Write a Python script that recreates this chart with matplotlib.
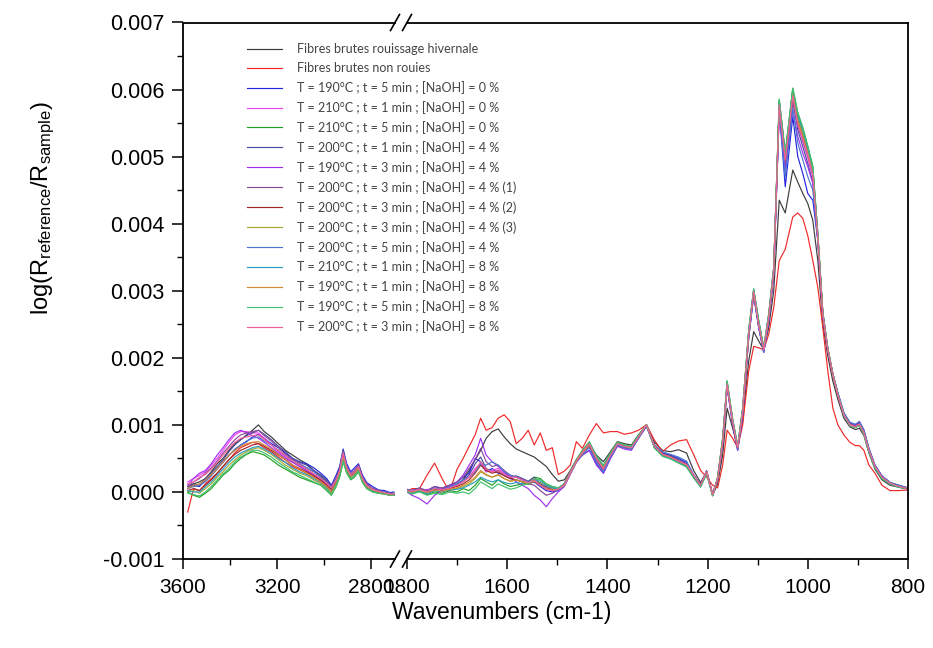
import numpy as np
import matplotlib
matplotlib.use('Agg')
import matplotlib.pyplot as plt
from matplotlib.lines import Line2D
from matplotlib.ticker import MultipleLocator, FormatStrFormatter

plt.rcParams['font.family'] = 'Liberation Sans'
plt.rcParams['axes.unicode_minus'] = False
plt.rcParams['mathtext.fontset'] = 'custom'
plt.rcParams['mathtext.rm'] = 'Liberation Sans'

#%% data (absorbance, in units of 1e-3)
wn_left = [3580, 3555, 3530, 3505, 3480, 3455, 3430, 3405, 3380, 3355,
           3330, 3305, 3280, 3255, 3225, 3195, 3165, 3135, 3105, 3075,
           3045, 3015, 2990, 2970, 2950, 2935, 2920, 2905, 2888, 2872,
           2855, 2838, 2820, 2795, 2770, 2745, 2720, 2705]

wn_right = [1800, 1790, 1775, 1760, 1745, 1730, 1715, 1700,
            1688, 1676, 1664, 1653, 1642, 1630, 1618, 1606, 1594, 1582,
            1570, 1558, 1546, 1534, 1522, 1510, 1498, 1486, 1474, 1462,
            1450, 1436, 1422, 1408, 1394, 1380, 1366, 1352, 1338, 1322,
            1306, 1290, 1274, 1258, 1242, 1228, 1214, 1202, 1190, 1180,
            1170, 1161, 1150, 1140, 1130, 1118, 1108, 1098, 1088, 1078,
            1068, 1057, 1045, 1030, 1020, 1010, 1000, 990, 980, 970,
            960, 950, 940, 928, 916, 905, 897, 888, 878, 866,
            852, 836, 818, 800]

hiver_l = [0.08, 0.12, 0.15, 0.20, 0.30, 0.42, 0.50, 0.62, 0.72, 0.78,
           0.85, 0.92, 1.00, 0.90, 0.82, 0.72, 0.62, 0.55, 0.48, 0.42,
           0.32, 0.24, 0.16, 0.05, 0.15, 0.30, 0.58, 0.35, 0.25, 0.28,
           0.38, 0.20, 0.10, 0.04, 0.02, 0.00, -0.03, -0.02]
hiver_r = [0.02, 0.00, 0.02, -0.02, 0.05, 0.03, 0.06, 0.10,
           0.18, 0.32, 0.48, 0.62, 0.80, 0.90, 0.94, 0.82, 0.72, 0.64,
           0.60, 0.56, 0.52, 0.45, 0.38, 0.26, 0.16, 0.18, 0.32, 0.48,
           0.60, 0.72, 0.55, 0.45, 0.60, 0.75, 0.72, 0.70, 0.85, 1.00,
           0.74, 0.62, 0.60, 0.63, 0.58, 0.32, 0.14, 0.30, -0.05, 0.12,
           0.55, 1.25, 0.95, 0.66, 1.05, 1.95, 2.39, 2.25, 2.12, 2.45,
           3.00, 4.35, 4.16, 4.80, 4.62, 4.45, 4.30, 4.05, 3.45, 2.50,
           2.02, 1.65, 1.38, 1.10, 0.97, 0.93, 0.95, 0.84, 0.58, 0.34,
           0.18, 0.10, 0.07, 0.04]

brut_l = [-0.30, 0.05, 0.02, 0.12, 0.20, 0.28, 0.38, 0.48, 0.58, 0.66,
          0.70, 0.74, 0.72, 0.66, 0.60, 0.52, 0.44, 0.38, 0.33, 0.28,
          0.22, 0.16, 0.10, 0.05, 0.15, 0.30, 0.52, 0.34, 0.24, 0.28,
          0.36, 0.18, 0.08, 0.02, 0.00, -0.02, -0.04, -0.05]
brut_r = [0.00, 0.05, 0.05, 0.25, 0.43, 0.20, 0.00, 0.34,
          0.50, 0.68, 0.85, 1.10, 0.92, 0.96, 1.10, 1.15, 1.05, 0.72,
          0.80, 0.92, 0.70, 0.88, 0.62, 0.66, 0.26, 0.31, 0.40, 0.75,
          0.65, 0.85, 1.02, 0.88, 0.90, 0.90, 0.86, 0.88, 0.92, 1.00,
          0.77, 0.60, 0.70, 0.76, 0.78, 0.56, 0.32, 0.22, 0.10, 0.06,
          0.40, 0.92, 0.80, 0.66, 1.00, 1.80, 2.17, 2.15, 2.12, 2.35,
          2.75, 3.45, 3.62, 4.10, 4.16, 4.08, 3.82, 3.45, 3.05, 2.45,
          1.80, 1.25, 1.00, 0.85, 0.74, 0.69, 0.69, 0.62, 0.40, 0.28,
          0.10, 0.02, 0.02, 0.03]

t190_5_0_l = [0.05, 0.10, 0.08, 0.18, 0.25, 0.35, 0.45, 0.55, 0.62, 0.70,
              0.75, 0.82, 0.86, 0.80, 0.72, 0.66, 0.58, 0.50, 0.45, 0.42,
              0.36, 0.28, 0.20, 0.10, 0.25, 0.38, 0.64, 0.42, 0.30, 0.36,
              0.42, 0.25, 0.14, 0.08, 0.03, 0.02, -0.01, 0.00]
t190_5_0_r = [0.03, 0.01, 0.05, 0.02, 0.08, 0.05, 0.10, 0.15,
              0.22, 0.28, 0.50, 0.45, 0.30, 0.35, 0.28, 0.25, 0.20, 0.18,
              0.15, 0.12, 0.15, 0.08, 0.02, 0.00, 0.02, 0.10, 0.28, 0.45,
              0.55, 0.62, 0.42, 0.28, 0.50, 0.70, 0.66, 0.64, 0.80, 0.98,
              0.68, 0.58, 0.55, 0.50, 0.44, 0.25, 0.10, 0.30, -0.03, 0.18,
              0.72, 1.58, 1.02, 0.62, 1.15, 2.30, 2.95, 2.45, 2.08, 2.55,
              3.25, 5.70, 4.55, 5.60, 5.00, 4.75, 4.45, 4.35, 3.75, 2.62,
              2.10, 1.75, 1.48, 1.18, 1.03, 1.00, 1.05, 0.92, 0.65, 0.40,
              0.24, 0.14, 0.10, 0.06]

t210_1_0_l = [0.15, 0.20, 0.25, 0.30, 0.40, 0.50, 0.62, 0.74, 0.85, 0.90,
              0.90, 0.88, 0.88, 0.80, 0.70, 0.60, 0.52, 0.45, 0.38, 0.32,
              0.26, 0.20, 0.14, 0.08, 0.18, 0.32, 0.58, 0.36, 0.26, 0.30,
              0.38, 0.20, 0.10, 0.04, 0.00, -0.02, -0.04, -0.03]
t210_1_0_r = [0.02, 0.03, 0.00, 0.04, 0.02, 0.06, 0.04, 0.10,
              0.15, 0.22, 0.35, 0.42, 0.30, 0.32, 0.35, 0.28, 0.24, 0.22,
              0.20, 0.15, 0.20, 0.12, 0.05, 0.02, 0.05, 0.12, 0.30, 0.46,
              0.60, 0.72, 0.50, 0.34, 0.55, 0.72, 0.68, 0.66, 0.82, 1.00,
              0.68, 0.56, 0.52, 0.46, 0.42, 0.26, 0.10, 0.30, -0.04, 0.20,
              0.76, 1.62, 1.06, 0.66, 1.22, 2.38, 3.00, 2.52, 2.12, 2.62,
              3.32, 5.78, 4.98, 5.92, 5.50, 5.22, 4.98, 4.70, 3.80, 2.65,
              2.12, 1.74, 1.44, 1.14, 1.00, 0.97, 1.00, 0.88, 0.62, 0.38,
              0.22, 0.13, 0.08, 0.05]

t210_5_0_l = [0.00, -0.05, -0.08, -0.02, 0.05, 0.15, 0.25, 0.32, 0.42, 0.50,
              0.56, 0.60, 0.58, 0.55, 0.48, 0.40, 0.34, 0.28, 0.22, 0.18,
              0.14, 0.10, 0.02, -0.05, 0.08, 0.22, 0.45, 0.28, 0.18, 0.22,
              0.30, 0.14, 0.05, 0.00, -0.02, -0.03, -0.05, -0.04]
t210_5_0_r = [0.00, -0.03, 0.02, -0.04, 0.00, -0.02, 0.02, 0.00,
              0.05, 0.02, 0.10, 0.20, 0.15, 0.10, 0.18, 0.12, 0.08, 0.10,
              0.12, 0.15, 0.22, 0.20, 0.12, 0.08, 0.06, 0.12, 0.30, 0.48,
              0.62, 0.74, 0.52, 0.38, 0.58, 0.74, 0.70, 0.68, 0.84, 1.00,
              0.66, 0.54, 0.50, 0.44, 0.38, 0.22, 0.08, 0.28, -0.05, 0.22,
              0.80, 1.65, 1.08, 0.68, 1.25, 2.40, 3.02, 2.55, 2.15, 2.65,
              3.35, 5.85, 5.05, 6.02, 5.65, 5.42, 5.15, 4.85, 3.85, 2.68,
              2.14, 1.76, 1.46, 1.15, 1.00, 0.96, 1.00, 0.87, 0.60, 0.36,
              0.20, 0.12, 0.07, 0.05]

t200_1_4_l = [0.05, 0.12, 0.10, 0.20, 0.28, 0.38, 0.48, 0.60, 0.70, 0.78,
              0.84, 0.88, 0.92, 0.86, 0.78, 0.68, 0.60, 0.50, 0.44, 0.40,
              0.32, 0.25, 0.18, 0.08, 0.20, 0.35, 0.62, 0.38, 0.27, 0.32,
              0.40, 0.22, 0.12, 0.05, 0.02, 0.00, -0.02, -0.02]
t200_1_4_r = [0.03, 0.02, 0.06, 0.00, 0.05, 0.03, 0.08, 0.12,
              0.18, 0.25, 0.42, 0.52, 0.35, 0.30, 0.32, 0.26, 0.22, 0.24,
              0.20, 0.16, 0.22, 0.12, 0.08, 0.06, 0.05, 0.12, 0.30, 0.46,
              0.58, 0.70, 0.48, 0.32, 0.52, 0.70, 0.66, 0.65, 0.82, 1.00,
              0.70, 0.58, 0.54, 0.48, 0.42, 0.24, 0.10, 0.32, -0.03, 0.20,
              0.74, 1.58, 1.04, 0.65, 1.18, 2.32, 2.96, 2.48, 2.10, 2.58,
              3.28, 5.72, 4.85, 5.88, 5.40, 5.15, 4.90, 4.62, 3.78, 2.64,
              2.12, 1.76, 1.47, 1.16, 1.02, 0.99, 1.03, 0.90, 0.63, 0.39,
              0.23, 0.14, 0.09, 0.06]

t190_3_4_l = [0.10, 0.20, 0.28, 0.32, 0.42, 0.55, 0.66, 0.78, 0.88, 0.92,
              0.88, 0.84, 0.80, 0.74, 0.66, 0.58, 0.50, 0.44, 0.38, 0.32,
              0.25, 0.18, 0.12, 0.06, 0.18, 0.32, 0.58, 0.36, 0.25, 0.30,
              0.38, 0.20, 0.10, 0.04, 0.01, -0.02, -0.03, -0.03]
t190_3_4_r = [0.00, -0.05, -0.10, -0.18, -0.05, 0.02, 0.08, 0.15,
              0.25, 0.40, 0.55, 0.80, 0.55, 0.45, 0.38, 0.30, 0.22, 0.15,
              0.10, 0.05, -0.05, -0.12, -0.22, -0.10, 0.00, 0.08, 0.26, 0.44,
              0.55, 0.62, 0.40, 0.28, 0.50, 0.68, 0.64, 0.62, 0.80, 0.98,
              0.66, 0.55, 0.50, 0.44, 0.38, 0.22, 0.08, 0.28, -0.05, 0.18,
              0.72, 1.55, 1.00, 0.62, 1.15, 2.30, 2.92, 2.45, 2.08, 2.55,
              3.25, 5.65, 4.80, 5.70, 5.30, 5.05, 4.85, 4.60, 3.75, 2.62,
              2.10, 1.74, 1.46, 1.16, 1.02, 0.99, 1.04, 0.92, 0.64, 0.40,
              0.24, 0.14, 0.09, 0.06]

t200_3_4a_l = [0.08, 0.15, 0.20, 0.28, 0.36, 0.46, 0.58, 0.68, 0.78, 0.85,
               0.88, 0.90, 0.92, 0.84, 0.76, 0.66, 0.56, 0.48, 0.42, 0.36,
               0.30, 0.22, 0.15, 0.08, 0.20, 0.34, 0.60, 0.38, 0.27, 0.32,
               0.40, 0.22, 0.12, 0.05, 0.02, 0.00, -0.02, -0.03]
t200_3_4a_r = [0.04, 0.02, 0.06, 0.02, 0.08, 0.06, 0.10, 0.15,
               0.22, 0.35, 0.48, 0.65, 0.45, 0.38, 0.40, 0.32, 0.25, 0.22,
               0.18, 0.12, 0.10, 0.02, -0.05, -0.02, 0.04, 0.12, 0.30, 0.46,
               0.58, 0.68, 0.46, 0.32, 0.52, 0.70, 0.66, 0.64, 0.82, 1.00,
               0.68, 0.56, 0.52, 0.46, 0.40, 0.24, 0.10, 0.30, -0.04, 0.20,
               0.74, 1.60, 1.04, 0.64, 1.18, 2.34, 2.97, 2.50, 2.12, 2.60,
               3.30, 5.74, 4.90, 5.80, 5.45, 5.25, 5.02, 4.75, 3.82, 2.66,
               2.14, 1.76, 1.46, 1.16, 1.01, 0.98, 1.02, 0.89, 0.62, 0.38,
               0.22, 0.13, 0.08, 0.05]

t200_3_4b_l = [0.02, 0.05, 0.02, 0.10, 0.18, 0.28, 0.38, 0.48, 0.56, 0.62,
               0.66, 0.70, 0.72, 0.68, 0.62, 0.55, 0.48, 0.40, 0.35, 0.30,
               0.24, 0.18, 0.10, 0.03, 0.15, 0.30, 0.55, 0.34, 0.24, 0.28,
               0.36, 0.18, 0.08, 0.02, -0.01, -0.03, -0.05, -0.04]
t200_3_4b_r = [0.02, 0.00, 0.03, 0.00, 0.04, 0.02, 0.06, 0.08,
               0.12, 0.18, 0.28, 0.40, 0.32, 0.28, 0.30, 0.24, 0.20, 0.18,
               0.15, 0.12, 0.16, 0.10, 0.06, 0.04, 0.05, 0.12, 0.30, 0.46,
               0.60, 0.70, 0.50, 0.36, 0.56, 0.72, 0.68, 0.66, 0.82, 1.00,
               0.68, 0.56, 0.52, 0.46, 0.40, 0.24, 0.10, 0.30, -0.05, 0.20,
               0.76, 1.62, 1.06, 0.66, 1.20, 2.36, 2.99, 2.52, 2.13, 2.62,
               3.32, 5.80, 5.00, 5.98, 5.55, 5.32, 5.08, 4.78, 3.82, 2.66,
               2.12, 1.75, 1.45, 1.15, 1.00, 0.97, 1.01, 0.88, 0.62, 0.38,
               0.22, 0.13, 0.08, 0.05]

t200_3_4c_l = [0.00, 0.02, -0.02, 0.05, 0.12, 0.22, 0.30, 0.40, 0.48, 0.55,
               0.60, 0.64, 0.66, 0.62, 0.56, 0.48, 0.40, 0.34, 0.28, 0.24,
               0.18, 0.12, 0.05, -0.02, 0.10, 0.25, 0.48, 0.30, 0.20, 0.25,
               0.32, 0.15, 0.06, 0.01, -0.02, -0.03, -0.04, -0.05]
t200_3_4c_r = [0.01, -0.01, 0.02, -0.02, 0.02, 0.00, 0.03, 0.05,
               0.08, 0.12, 0.20, 0.30, 0.25, 0.22, 0.25, 0.20, 0.16, 0.18,
               0.15, 0.14, 0.20, 0.14, 0.10, 0.06, 0.05, 0.12, 0.30, 0.46,
               0.60, 0.72, 0.52, 0.38, 0.56, 0.72, 0.68, 0.66, 0.82, 1.00,
               0.67, 0.55, 0.51, 0.45, 0.39, 0.24, 0.09, 0.29, -0.06, 0.20,
               0.76, 1.63, 1.07, 0.67, 1.22, 2.37, 3.00, 2.53, 2.14, 2.63,
               3.33, 5.82, 5.02, 6.00, 5.58, 5.35, 5.10, 4.80, 3.83, 2.66,
               2.12, 1.75, 1.45, 1.15, 1.00, 0.97, 1.00, 0.87, 0.61, 0.37,
               0.21, 0.12, 0.08, 0.05]

t200_5_4_l = [0.05, 0.08, 0.10, 0.15, 0.24, 0.34, 0.44, 0.54, 0.64, 0.70,
              0.76, 0.80, 0.82, 0.76, 0.70, 0.62, 0.54, 0.46, 0.40, 0.36,
              0.30, 0.22, 0.14, 0.06, 0.18, 0.32, 0.58, 0.36, 0.26, 0.30,
              0.38, 0.20, 0.10, 0.04, 0.01, 0.00, -0.03, -0.02]
t200_5_4_r = [0.03, 0.01, 0.04, 0.00, 0.06, 0.03, 0.07, 0.12,
              0.18, 0.22, 0.30, 0.42, 0.40, 0.45, 0.40, 0.30, 0.25, 0.22,
              0.18, 0.15, 0.18, 0.10, 0.05, 0.02, 0.03, 0.10, 0.28, 0.45,
              0.56, 0.66, 0.44, 0.30, 0.52, 0.70, 0.66, 0.64, 0.80, 0.98,
              0.70, 0.60, 0.56, 0.52, 0.46, 0.26, 0.11, 0.30, -0.03, 0.18,
              0.72, 1.56, 1.02, 0.63, 1.16, 2.30, 2.94, 2.47, 2.09, 2.56,
              3.26, 5.68, 4.70, 5.72, 5.20, 4.95, 4.70, 4.50, 3.76, 2.63,
              2.11, 1.76, 1.48, 1.18, 1.04, 1.01, 1.05, 0.92, 0.65, 0.40,
              0.24, 0.14, 0.10, 0.06]

t210_1_8_l = [0.02, 0.00, 0.00, 0.08, 0.15, 0.25, 0.34, 0.44, 0.52, 0.58,
              0.62, 0.66, 0.68, 0.64, 0.58, 0.50, 0.44, 0.36, 0.30, 0.26,
              0.20, 0.14, 0.06, 0.00, 0.12, 0.26, 0.50, 0.32, 0.22, 0.26,
              0.34, 0.16, 0.07, 0.02, -0.01, -0.02, -0.04, -0.04]
t210_1_8_r = [0.00, -0.02, 0.02, -0.03, 0.02, 0.00, 0.03, 0.04,
              0.06, 0.10, 0.15, 0.22, 0.18, 0.15, 0.18, 0.14, 0.12, 0.14,
              0.12, 0.12, 0.18, 0.16, 0.10, 0.06, 0.05, 0.12, 0.30, 0.46,
              0.60, 0.72, 0.52, 0.38, 0.57, 0.73, 0.69, 0.67, 0.83, 1.00,
              0.66, 0.54, 0.50, 0.44, 0.38, 0.22, 0.08, 0.28, -0.05, 0.21,
              0.78, 1.64, 1.08, 0.68, 1.24, 2.40, 3.02, 2.55, 2.15, 2.64,
              3.34, 5.84, 5.04, 6.00, 5.60, 5.40, 5.12, 4.82, 3.84, 2.67,
              2.13, 1.75, 1.45, 1.14, 0.99, 0.96, 1.00, 0.87, 0.60, 0.36,
              0.20, 0.12, 0.07, 0.05]

t190_1_8_l = [0.05, 0.10, 0.12, 0.18, 0.26, 0.35, 0.45, 0.55, 0.62, 0.68,
              0.72, 0.74, 0.75, 0.70, 0.64, 0.56, 0.48, 0.40, 0.34, 0.28,
              0.22, 0.15, 0.08, 0.00, 0.14, 0.28, 0.52, 0.33, 0.23, 0.27,
              0.35, 0.17, 0.08, 0.03, 0.00, -0.02, -0.04, -0.03]
t190_1_8_r = [0.02, 0.00, 0.03, -0.01, 0.03, 0.01, 0.04, 0.06,
              0.10, 0.15, 0.22, 0.32, 0.26, 0.22, 0.26, 0.20, 0.16, 0.18,
              0.15, 0.12, 0.16, 0.10, 0.05, 0.03, 0.04, 0.10, 0.28, 0.45,
              0.58, 0.70, 0.50, 0.36, 0.55, 0.72, 0.68, 0.66, 0.82, 1.00,
              0.68, 0.56, 0.52, 0.46, 0.40, 0.24, 0.10, 0.30, -0.04, 0.20,
              0.75, 1.60, 1.05, 0.66, 1.20, 2.35, 2.98, 2.50, 2.12, 2.60,
              3.30, 5.76, 4.96, 5.94, 5.52, 5.30, 5.05, 4.75, 3.80, 2.65,
              2.12, 1.75, 1.45, 1.15, 1.00, 0.97, 1.01, 0.88, 0.62, 0.38,
              0.22, 0.13, 0.08, 0.05]

t190_5_8_l = [-0.02, -0.04, -0.06, 0.00, 0.08, 0.18, 0.27, 0.35, 0.45, 0.52,
              0.57, 0.62, 0.62, 0.58, 0.52, 0.44, 0.37, 0.30, 0.25, 0.20,
              0.15, 0.10, 0.03, -0.04, 0.09, 0.23, 0.46, 0.29, 0.19, 0.23,
              0.31, 0.15, 0.05, 0.00, -0.02, -0.03, -0.05, -0.05]
t190_5_8_r = [0.00, -0.03, 0.00, -0.05, -0.02, -0.04, 0.00, -0.02,
              0.00, -0.03, 0.05, 0.15, 0.10, 0.05, 0.12, 0.08, 0.04, 0.06,
              0.10, 0.12, 0.20, 0.18, 0.12, 0.08, 0.06, 0.12, 0.30, 0.47,
              0.62, 0.75, 0.54, 0.40, 0.58, 0.74, 0.70, 0.68, 0.84, 1.00,
              0.65, 0.53, 0.49, 0.43, 0.37, 0.21, 0.07, 0.27, -0.06, 0.22,
              0.80, 1.66, 1.09, 0.69, 1.26, 2.42, 3.03, 2.56, 2.16, 2.66,
              3.36, 5.86, 5.06, 6.02, 5.66, 5.44, 5.16, 4.86, 3.86, 2.68,
              2.14, 1.76, 1.46, 1.15, 0.99, 0.96, 0.99, 0.86, 0.60, 0.36,
              0.20, 0.12, 0.07, 0.05]

t200_3_8_l = [0.12, 0.15, 0.22, 0.26, 0.34, 0.44, 0.55, 0.65, 0.74, 0.80,
              0.82, 0.84, 0.85, 0.78, 0.70, 0.62, 0.54, 0.46, 0.40, 0.34,
              0.27, 0.20, 0.13, 0.06, 0.18, 0.32, 0.58, 0.36, 0.26, 0.30,
              0.38, 0.20, 0.10, 0.04, 0.01, -0.01, -0.03, -0.03]
t200_3_8_r = [0.02, 0.01, 0.04, 0.00, 0.05, 0.03, 0.06, 0.10,
              0.15, 0.22, 0.32, 0.45, 0.34, 0.30, 0.32, 0.26, 0.22, 0.22,
              0.18, 0.14, 0.18, 0.10, 0.04, 0.02, 0.04, 0.11, 0.29, 0.46,
              0.60, 0.72, 0.50, 0.34, 0.55, 0.72, 0.68, 0.66, 0.82, 1.00,
              0.68, 0.56, 0.52, 0.46, 0.41, 0.25, 0.10, 0.30, -0.04, 0.20,
              0.75, 1.61, 1.05, 0.66, 1.21, 2.36, 2.99, 2.51, 2.12, 2.61,
              3.31, 5.77, 4.95, 5.90, 5.48, 5.26, 5.02, 4.72, 3.80, 2.65,
              2.12, 1.75, 1.45, 1.15, 1.00, 0.97, 1.01, 0.88, 0.62, 0.38,
              0.22, 0.13, 0.08, 0.05]

labels = ['Fibres brutes rouissage hivernale',
          'Fibres brutes non rouies',
          'T = 190°C ; t = 5 min ; [NaOH] = 0 %',
          'T = 210°C ; t = 1 min ; [NaOH] = 0 %',
          'T = 210°C ; t = 5 min ; [NaOH] = 0 %',
          'T = 200°C ; t = 1 min ; [NaOH] = 4 %',
          'T = 190°C ; t = 3 min ; [NaOH] = 4 %',
          'T = 200°C ; t = 3 min ; [NaOH] = 4 % (1)',
          'T = 200°C ; t = 3 min ; [NaOH] = 4 % (2)',
          'T = 200°C ; t = 3 min ; [NaOH] = 4 % (3)',
          'T = 200°C ; t = 5 min ; [NaOH] = 4 %',
          'T = 210°C ; t = 1 min ; [NaOH] = 8 %',
          'T = 190°C ; t = 1 min ; [NaOH] = 8 %',
          'T = 190°C ; t = 5 min ; [NaOH] = 8 %',
          'T = 200°C ; t = 3 min ; [NaOH] = 8 %']
colors = ['#3c3c3c', '#f02828', '#2424e0', '#f040f0', '#22a022',
          '#4a4a9c', '#a030f0', '#8a4a9a', '#a02828', '#a8a830',
          '#4a78d0', '#2a9cc0', '#d08a38', '#40c070', '#f0609a']
left_sets = [hiver_l, brut_l, t190_5_0_l, t210_1_0_l, t210_5_0_l, t200_1_4_l,
             t190_3_4_l, t200_3_4a_l, t200_3_4b_l, t200_3_4c_l, t200_5_4_l,
             t210_1_8_l, t190_1_8_l, t190_5_8_l, t200_3_8_l]
right_sets = [hiver_r, brut_r, t190_5_0_r, t210_1_0_r, t210_5_0_r, t200_1_4_r,
              t190_3_4_r, t200_3_4a_r, t200_3_4b_r, t200_3_4c_r, t200_5_4_r,
              t210_1_8_r, t190_1_8_r, t190_5_8_r, t200_3_8_r]

#%% figure, two panels for the broken wavenumber axis
W, H = 933, 648
fig = plt.figure(figsize=(W / 100, H / 100), dpi=100)

def box(x0, x1, y0, y1):
    return [x0 / W, 1 - y1 / H, (x1 - x0) / W, (y1 - y0) / H]

axl = fig.add_axes(box(183, 395, 22.5, 559))
axr = fig.add_axes(box(407, 908, 22.5, 559))

for yl, yr, lab, c in zip(left_sets, right_sets, labels, colors):
    axl.plot(wn_left, np.array(yl) * 1e-3, color=c, lw=0.85)
    axr.plot(wn_right, np.array(yr) * 1e-3, color=c, lw=0.85, label=lab)

for ax in (axl, axr):
    ax.set_ylim(-0.001, 0.007)
    for s in ax.spines.values():
        s.set_linewidth(1.3)
    ax.tick_params(axis='x', which='major', direction='out', length=7, width=1.1,
                   labelsize=15, pad=7)
    ax.tick_params(axis='x', which='minor', direction='out', length=4, width=1.0)

axl.set_xlim(3600, 2700)
axl.xaxis.set_major_locator(MultipleLocator(400))
axl.xaxis.set_minor_locator(MultipleLocator(200))
axl.spines['right'].set_visible(False)
axl.yaxis.set_major_locator(MultipleLocator(0.001))
axl.yaxis.set_minor_locator(MultipleLocator(0.0005))
axl.yaxis.set_major_formatter(FormatStrFormatter('%.3f'))
axl.tick_params(axis='y', which='major', direction='out', length=8, width=1.1,
                labelsize=15.5, pad=5.5)
axl.tick_params(axis='y', which='minor', direction='out', length=4, width=1.0)

axr.set_xlim(1800, 800)
axr.xaxis.set_major_locator(MultipleLocator(200))
axr.xaxis.set_minor_locator(MultipleLocator(100))
axr.spines['left'].set_visible(False)
axr.tick_params(axis='y', which='both', left=False, labelleft=False)

# break marks
for cx in (395, 407):
    for cy in (22.5, 559):
        fig.add_artist(Line2D([(cx - 4.5) / W, (cx + 4.5) / W],
                              [1 - (cy + 8) / H, 1 - (cy - 8) / H],
                              color='black', lw=1.2))

fig.text(43 / W, 1 - 208 / H,
         r'$\mathrm{log(R_{reference}/R_{sample})}$',
         rotation=90, ha='center', va='center', fontsize=17)
fig.text(502 / W, 1 - 612 / H, 'Wavenumbers (cm-1)',
         ha='center', va='center', fontsize=16.5)

leg = fig.legend(loc='upper left', bbox_to_anchor=(247 / W, 1 - 43 / H),
                 frameon=False, borderpad=0, borderaxespad=0,
                 handlelength=2.8, handletextpad=1.2, labelspacing=0.56,
                 prop={'family': 'Lato', 'size': 9})
for t in leg.get_texts():
    t.set_color('#444444')

fig.savefig('out.png', dpi=100)
